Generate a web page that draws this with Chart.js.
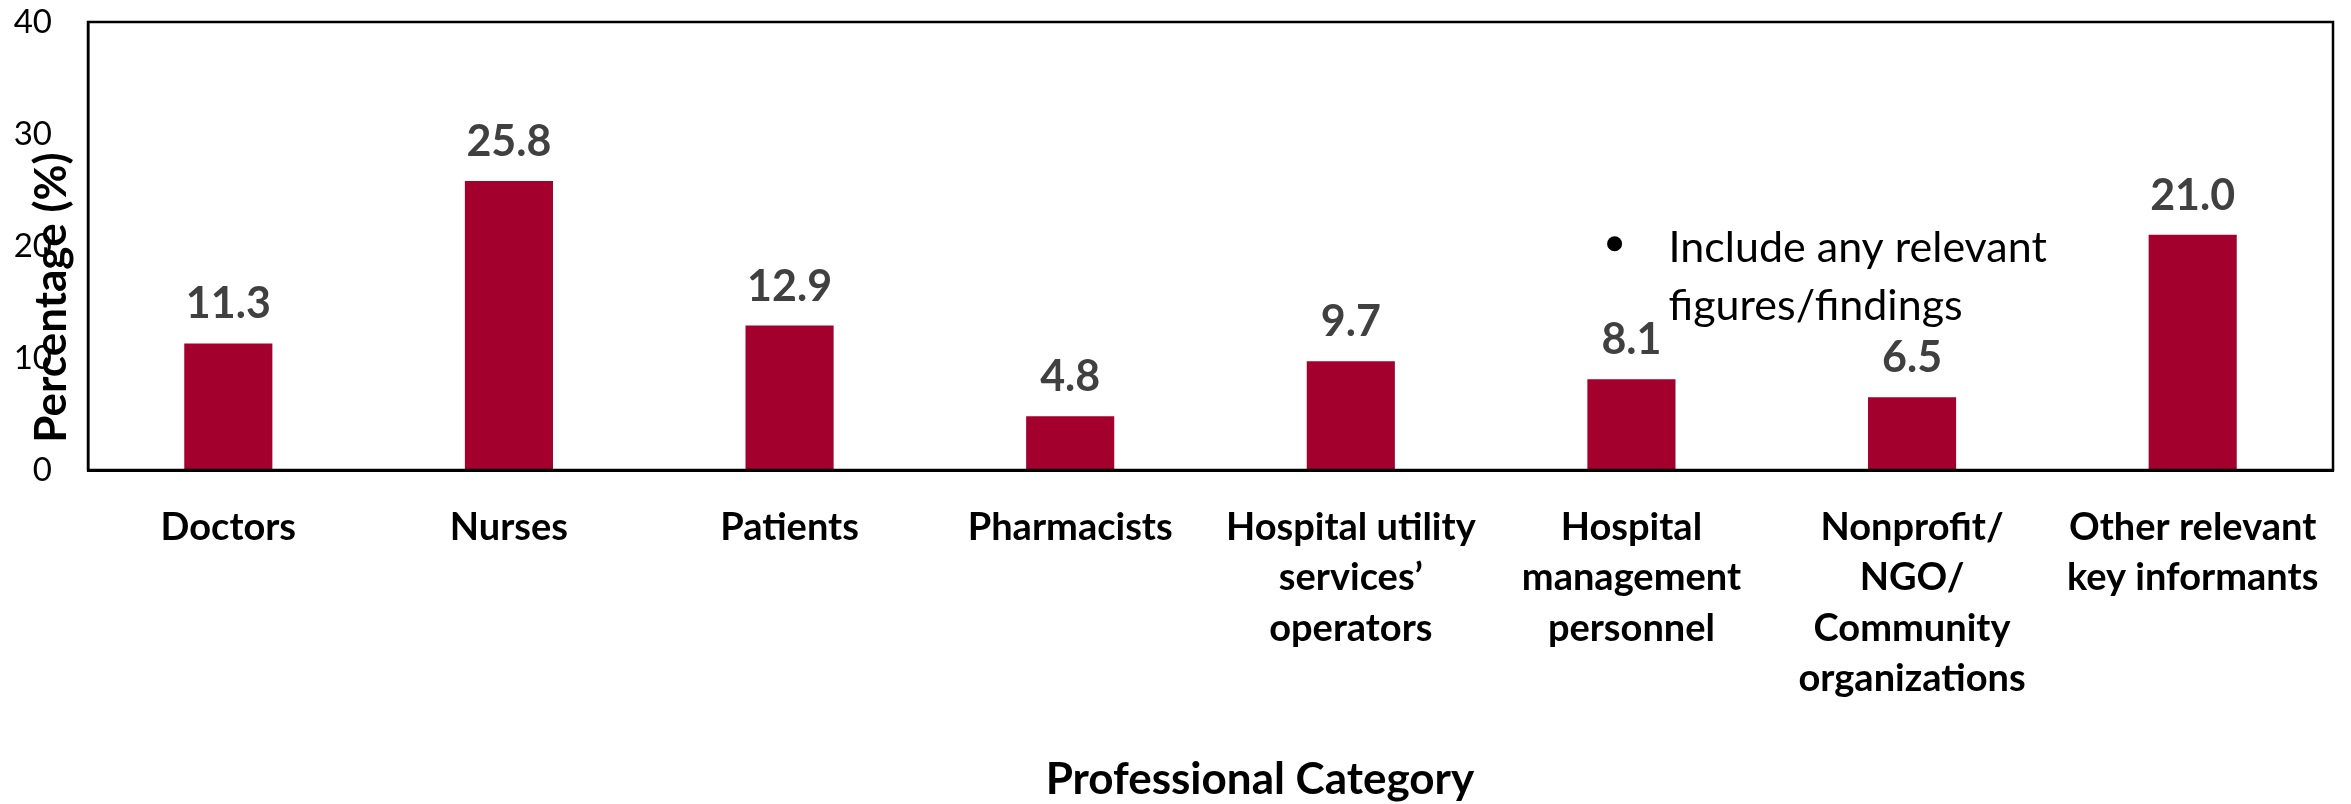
<!DOCTYPE html>
<html>
<head>
<meta charset="utf-8">
<script src="https://cdn.jsdelivr.net/npm/chart.js@4/dist/chart.umd.min.js"></script>
<style>
  html, body { margin: 0; padding: 0; background: #fff; }
  #wrap { width: 2351px; height: 804px; position: relative; }
</style>
</head>
<body>
<div id="wrap"><canvas id="chart"></canvas></div>
<script>
// категории и значения
const categories = [
  'Doctors',
  'Nurses',
  'Patients',
  'Pharmacists',
  ['Hospital utility', 'services’', 'operators'],
  ['Hospital', 'management', 'personnel'],
  ['Nonprofit/', 'NGO/', 'Community', 'organizations'],
  ['Other relevant', 'key informants']
];
const percentages = [11.3, 25.8, 12.9, 4.8, 9.7, 8.1, 6.5, 21.0];
const yTicks = [0, 10, 20, 30, 40];
const noteLines = ['Include any relevant', 'figures/findings'];

const FONT = 'Lato, "Open Sans", sans-serif';

// подписи над столбцами
const valueLabels = {
  id: 'valueLabels',
  afterDatasetsDraw(chart) {
    const ctx = chart.ctx;
    const meta = chart.getDatasetMeta(0);
    ctx.save();
    ctx.font = 'bold 43px ' + FONT;
    ctx.fillStyle = '#404040';
    ctx.textAlign = 'center';
    ctx.textBaseline = 'alphabetic';
    meta.data.forEach((bar, i) => {
      ctx.fillText(percentages[i].toFixed(1), bar.x, bar.y - 25);
    });
    ctx.restore();
  }
};

// рамка, заголовки осей и заметка
const decorations = {
  id: 'decorations',
  afterDraw(chart) {
    const ctx = chart.ctx;
    const a = chart.chartArea;
    const w = a.right - a.left, h = a.bottom - a.top;
    ctx.save();
    ctx.strokeStyle = '#000';
    ctx.lineWidth = 2.5;
    ctx.strokeRect(a.left, a.top, w, h);

    ctx.fillStyle = '#000';
    ctx.font = 'bold 44px ' + FONT;
    ctx.textAlign = 'center';
    ctx.textBaseline = 'middle';
    ctx.fillText('Professional Category', a.left + w * 0.522, 780);

    ctx.save();
    ctx.translate(a.left - 36, a.top + h * 0.615);
    ctx.rotate(-Math.PI / 2);
    ctx.fillText('Percentage (%)', 0, 0);
    ctx.restore();

    // bullet
    const bx = a.left + w * 0.68, by = a.top + h * 0.495;
    ctx.beginPath();
    ctx.arc(bx, by, 7.5, 0, Math.PI * 2);
    ctx.fill();
    ctx.font = '43px ' + FONT;
    ctx.textAlign = 'left';
    noteLines.forEach((line, i) => {
      ctx.fillText(line, bx + 54, by + 4 + i * 58);
    });
    ctx.restore();
  }
};

new Chart(document.getElementById('chart'), {
  type: 'bar',
  data: {
    labels: categories,
    datasets: [{
      data: percentages,
      backgroundColor: '#A3002E',
      borderWidth: 0,
      categoryPercentage: 1,
      barPercentage: 0.314
    }]
  },
  options: {
    responsive: true,
    maintainAspectRatio: false,
    animation: false,
    layout: { padding: { left: 0, top: 22, right: 18, bottom: 0 } },
    plugins: {
      legend: { display: false },
      tooltip: { enabled: false },
      title: { display: false }
    },
    scales: {
      x: {
        grid: { display: false, drawTicks: false },
        border: { display: true, color: '#000', width: 3 },
        ticks: {
          color: '#000',
          font: { family: FONT, size: 38, weight: 'bold', lineHeight: 1.32 },
          padding: 33,
          maxRotation: 0,
          autoSkip: false
        },
        afterFit(scale) {
          scale.height = 334;
          scale.paddingLeft = 0;
          scale.paddingRight = 0;
        }
      },
      y: {
        min: 0,
        max: 40,
        afterBuildTicks(scale) { scale.ticks = yTicks.map(v => ({ value: v })); },
        grid: { display: false, drawTicks: false },
        border: { display: true, color: '#000', width: 2.5 },
        ticks: {
          color: '#000',
          font: { family: FONT, size: 33 },
          padding: 36
        },
        afterFit(scale) {
          scale.width = 88;
          scale.paddingTop = 0;
          scale.paddingBottom = 0;
        }
      }
    }
  },
  plugins: [valueLabels, decorations]
});
</script>
</body>
</html>
